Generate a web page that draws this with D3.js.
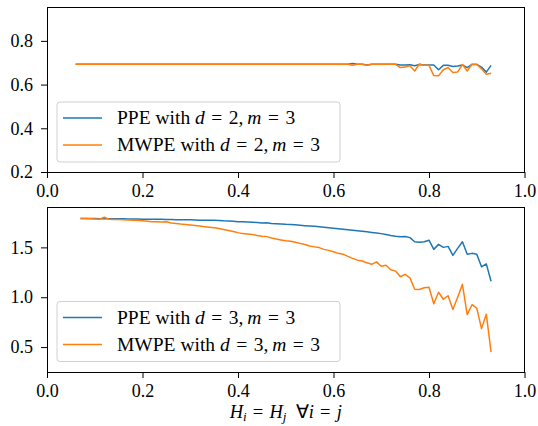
<!DOCTYPE html>
<meta charset="utf-8">
<style>
  body { margin: 0; background: #fff; }
  svg text { fill: #000; font-family: "Liberation Serif", serif; }
  .domain { display: none; }
  .tick line { stroke: #000; stroke-width: 1; }
  .frame { fill: none; stroke: #000; stroke-width: 1; shape-rendering: crispEdges; }
  .series { fill: none; stroke-width: 1.5; stroke-linejoin: round; }
</style>
<svg width="538" height="426"></svg>
<script src="https://d3js.org/d3.v7.min.js"></script>
<script>
// ====================================================================
// x values (H_i = H_j)
const hTop = [0.06,0.07,0.08,0.09,0.10,0.11,0.12,0.13,0.14,0.15,0.16,0.17,0.18,0.19,0.20,0.21,0.22,0.23,0.24,0.25,
  0.26,0.27,0.28,0.29,0.30,0.31,0.32,0.33,0.34,0.35,0.36,0.37,0.38,0.39,0.40,0.41,0.42,0.43,0.44,0.45,
  0.46,0.47,0.48,0.49,0.50,0.51,0.52,0.53,0.54,0.55,0.56,0.57,0.58,0.59,0.60,0.61,0.62,0.63,0.64,0.65,
  0.66,0.67,0.68,0.69,0.70,0.71,0.72,0.73,0.74,0.75,0.76,0.77,0.78,0.79,0.80,0.81,0.82,0.83,0.84,0.85,
  0.86,0.87,0.88,0.89,0.90,0.91,0.92,0.93]
const hBottom = hTop.slice(1)

// top panel: d = 2, m = 3
const ppeTop = [0.693,0.693,0.693,0.693,0.693,0.693,0.693,0.693,0.693,0.693,0.693,0.693,0.693,0.693,0.693,0.693,0.693,0.693,0.693,0.693,
  0.693,0.693,0.693,0.693,0.693,0.693,0.693,0.693,0.693,0.693,0.693,0.693,0.693,0.693,0.693,0.693,0.693,0.693,0.693,0.693,
  0.693,0.693,0.693,0.693,0.693,0.693,0.693,0.693,0.693,0.693,0.693,0.693,0.693,0.693,0.693,0.693,0.693,0.693,0.696,0.693,
  0.693,0.690,0.693,0.693,0.693,0.693,0.693,0.693,0.690,0.690,0.691,0.686,0.692,0.690,0.690,0.690,0.668,0.688,0.688,0.683,
  0.685,0.690,0.678,0.692,0.692,0.680,0.657,0.688]
const mwpeTop = [0.693,0.693,0.693,0.693,0.693,0.693,0.693,0.693,0.693,0.693,0.693,0.693,0.693,0.693,0.693,0.693,0.693,0.693,0.693,0.693,
  0.693,0.693,0.693,0.693,0.693,0.693,0.693,0.693,0.693,0.693,0.693,0.693,0.693,0.693,0.693,0.693,0.693,0.693,0.693,0.693,
  0.693,0.693,0.693,0.693,0.693,0.693,0.693,0.693,0.693,0.693,0.693,0.693,0.693,0.693,0.693,0.693,0.693,0.693,0.688,0.693,
  0.693,0.688,0.693,0.693,0.693,0.693,0.693,0.693,0.678,0.680,0.686,0.662,0.694,0.688,0.688,0.641,0.640,0.668,0.678,0.655,
  0.658,0.692,0.662,0.693,0.693,0.672,0.647,0.652]

// bottom panel: d = 3, m = 3
const ppeBottom = [1.790,1.790,1.789,1.789,1.788,1.788,1.787,1.787,1.786,1.786,1.785,1.785,1.784,1.783,1.783,1.782,1.781,1.781,1.780,
  1.779,1.778,1.777,1.776,1.776,1.775,1.773,1.772,1.772,1.771,1.770,1.766,1.764,1.762,1.758,1.756,1.754,1.752,1.750,1.744,
  1.746,1.740,1.738,1.735,1.731,1.729,1.726,1.722,1.718,1.714,1.711,1.707,1.702,1.697,1.692,1.688,1.683,1.677,1.672,1.667,
  1.661,1.656,1.650,1.645,1.638,1.630,1.620,1.612,1.606,1.610,1.598,1.556,1.552,1.556,1.572,1.480,1.530,1.500,1.510,1.420,
  1.490,1.556,1.430,1.440,1.432,1.305,1.335,1.160]
const mwpeBottom = [1.790,1.790,1.788,1.785,1.783,1.802,1.782,1.780,1.779,1.777,1.775,1.773,1.770,1.766,1.762,1.758,1.756,1.755,1.757,
  1.745,1.740,1.734,1.730,1.725,1.720,1.714,1.708,1.703,1.698,1.690,1.680,1.670,1.660,1.648,1.638,1.634,1.630,1.620,1.612,
  1.608,1.594,1.583,1.574,1.566,1.561,1.552,1.540,1.528,1.513,1.505,1.498,1.480,1.470,1.456,1.440,1.432,1.410,1.390,1.372,
  1.364,1.345,1.330,1.355,1.310,1.320,1.275,1.262,1.205,1.230,1.195,1.080,1.078,1.095,1.100,0.935,1.050,0.980,1.015,0.876,
  1.000,1.130,0.826,0.925,0.890,0.685,0.830,0.450]

const xTicks = [0.0, 0.2, 0.4, 0.6, 0.8, 1.0]
const yTicksTop = [0.2, 0.4, 0.6, 0.8]
const yTicksBottom = [0.5, 1.0, 1.5]

const colors = ["#1f77b4", "#ff7f0e"]
const serif = '"Liberation Serif", serif'

// ====================================================================
const svg = d3.select("svg")
const left = 47, right = 524.5

const x = d3.scaleLinear().domain([0, 1]).range([left, right])

const panels = [
  { top: 7, bottom: 172, domain: [0.2, 0.955], ticks: yTicksTop, xs: hTop,
    series: [ppeTop, mwpeTop],
    labels: [["PPE with ", "d", " = 2, ", "m", " = 3"], ["MWPE with ", "d", " = 2, ", "m", " = 3"]],
    legend: { x: 57, y: 102, w: 283, h: 60 } },
  { top: 207.5, bottom: 372, domain: [0.25, 1.9], ticks: yTicksBottom, xs: hBottom,
    series: [ppeBottom, mwpeBottom],
    labels: [["PPE with ", "d", " = 3, ", "m", " = 3"], ["MWPE with ", "d", " = 3, ", "m", " = 3"]],
    legend: { x: 57, y: 301.5, w: 283, h: 60 } }
]

const mathText = (s) => s.replace(/ = /g, "\u2004=\u2004").replace(/, /g, ",\u2009").replace(/ /g, "\u00a0")

panels.forEach((p) => {
  const y = d3.scaleLinear().domain(p.domain).range([p.bottom, p.top])
  const g = svg.append("g")

  // lines
  p.series.forEach((vals, i) => {
    const line = d3.line().x((d, k) => x(p.xs[k])).y((d) => y(d))
    g.append("path")
      .attr("class", "series")
      .attr("stroke", colors[i])
      .attr("d", line(vals))
  })

  // axes
  g.append("g")
    .attr("transform", `translate(0,${p.bottom})`)
    .call(d3.axisBottom(x).tickValues(xTicks).tickFormat(d3.format(".1f")).tickSize(6).tickPadding(6))
    .attr("font-size", 18)
    .selectAll("text").style("font-family", serif)
  g.append("g")
    .attr("transform", `translate(${left},0)`)
    .call(d3.axisLeft(y).tickValues(p.ticks).tickFormat(d3.format(".1f")).tickSize(6).tickPadding(8))
    .attr("font-size", 18)
    .selectAll("text").style("font-family", serif)

  g.append("rect")
    .attr("class", "frame")
    .attr("x", left).attr("y", p.top)
    .attr("width", right - left).attr("height", p.bottom - p.top)

  // legend
  const L = p.legend
  g.append("rect")
    .attr("x", L.x).attr("y", L.y).attr("width", L.w).attr("height", L.h)
    .attr("rx", 3)
    .attr("fill", "#fff").attr("fill-opacity", 0.8)
    .attr("stroke", "#d0d0d0").attr("stroke-width", 1)
  p.labels.forEach((parts, i) => {
    const cy = L.y + 16 + i * 27
    g.append("line")
      .attr("x1", L.x + 6).attr("x2", L.x + 45)
      .attr("y1", cy).attr("y2", cy)
      .attr("stroke", colors[i]).attr("stroke-width", 1.5)
    const t = g.append("text")
      .attr("x", L.x + 60).attr("y", cy + 6)
      .style("font-family", serif)
      .attr("font-size", 19.5)
    parts.forEach((s, k) => {
      t.append("tspan").attr("font-style", k % 2 === 1 ? "italic" : null).text(mathText(s))
    })
  })
})

// x label
const xl = svg.append("text")
  .attr("x", (left + right) / 2).attr("y", 418)
  .attr("text-anchor", "middle")
  .style("font-family", serif)
  .attr("font-size", 18.5)
xl.append("tspan").attr("font-style", "italic").text("H")
xl.append("tspan").attr("font-style", "italic").attr("font-size", 13).attr("dy", 3).text("i")
xl.append("tspan").attr("dy", -3).text("\u2004=\u2004")
xl.append("tspan").attr("font-style", "italic").text("H")
xl.append("tspan").attr("font-style", "italic").attr("font-size", 13).attr("dy", 3).text("j")
xl.append("tspan").attr("dy", -3).text("\u2002\u2200")
xl.append("tspan").attr("font-style", "italic").text("i")
xl.append("tspan").text("\u2004=\u2004")
xl.append("tspan").attr("font-style", "italic").text("j")
</script>
